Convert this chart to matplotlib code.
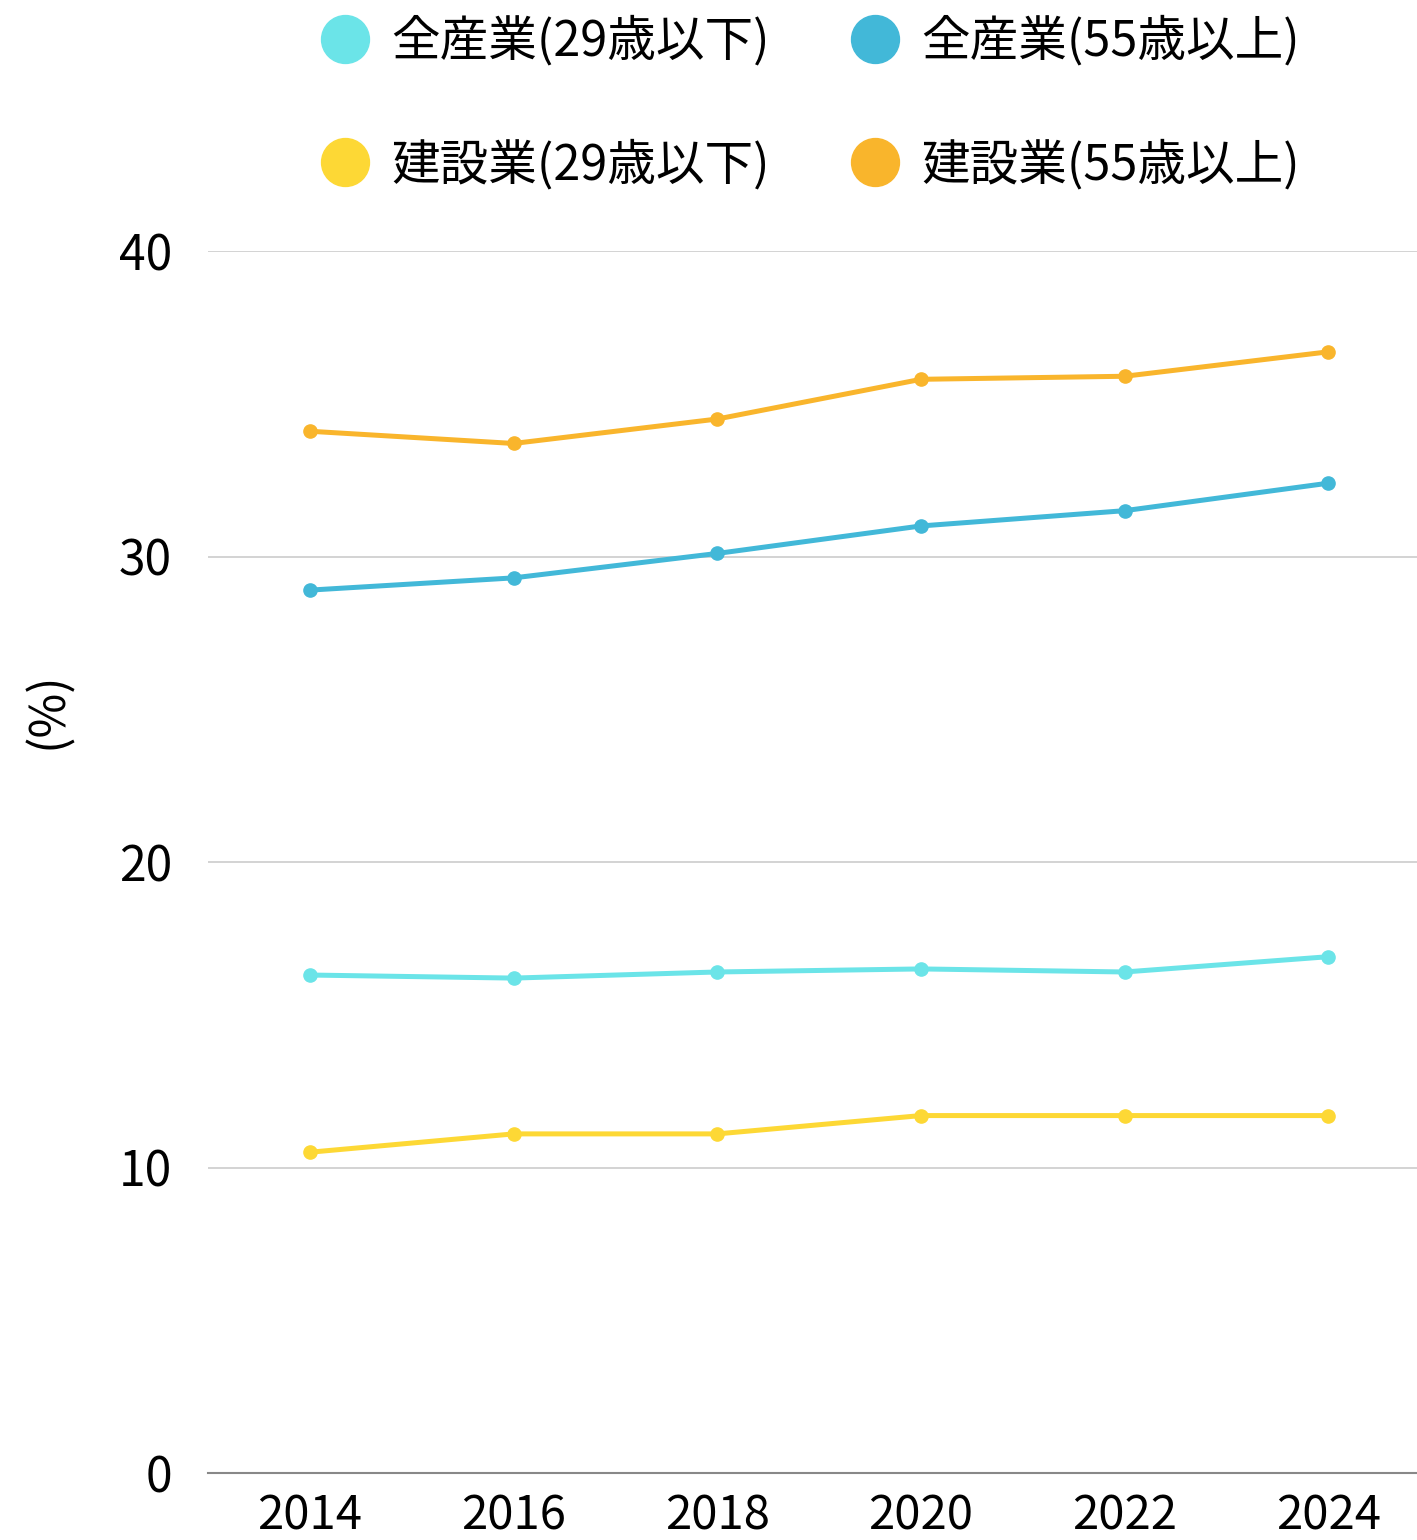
import matplotlib
matplotlib.use('Agg')
import matplotlib.pyplot as plt
from matplotlib.lines import Line2D

plt.rcParams['font.family'] = ['Noto Sans CJK JP', 'DejaVu Sans']

# share of workers by age band (%)
years = [2014, 2016, 2018, 2020, 2022, 2024]
all_under29 = [16.3, 16.2, 16.4, 16.5, 16.4, 16.9]
all_over55 = [28.9, 29.3, 30.1, 31.0, 31.5, 32.4]
con_under29 = [10.5, 11.1, 11.1, 11.7, 11.7, 11.7]
con_over55 = [34.1, 33.7, 34.5, 35.8, 35.9, 36.7]

labels = ['全産業(29歳以下)', '建設業(29歳以下)', '全産業(55歳以上)', '建設業(55歳以上)']
series = [all_under29, con_under29, all_over55, con_over55]
colors = ['#6be4e8', '#fdd835', '#42b8d8', '#f9b52c']

fig = plt.figure(figsize=(14.17, 15.4), dpi=100)
ax = fig.add_axes([208 / 1417, (1540 - 1473) / 1540, 1 - 208 / 1417, (1473 - 251) / 1540])

for vals, c in zip(series, colors):
    ax.plot(years, vals, color=c, lw=3.6, marker='o', ms=9.5, zorder=3)

ax.set_ylim(0, 40)
ax.set_xlim(2013, 2024.87)
ax.set_yticks([0, 10, 20, 30, 40])
ax.set_xticks(years)
ax.grid(axis='y', color='#cccccc', lw=1.2)
ax.set_axisbelow(True)
for s in ['top', 'right', 'left']:
    ax.spines[s].set_visible(False)
ax.spines['bottom'].set_color('#888888')
ax.spines['bottom'].set_linewidth(1.5)
ax.tick_params(axis='y', length=0, pad=26, labelsize=34.5)
ax.tick_params(axis='x', length=0, pad=14, labelsize=34)

fig.text(48 / 1417, 1 - 710 / 1540, '(%)', rotation=90, ha='center', va='center', fontsize=35)

handles = [Line2D([], [], ls='none', marker='o', ms=34.5, color=c) for c in colors]
fig.legend(handles, labels, ncol=2, loc='upper left', bbox_to_anchor=(265 / 1417, 1.018),
           frameon=False, fontsize=35, handletextpad=0.2, columnspacing=1.42,
           labelspacing=1.5, handlelength=1.5)

fig.savefig('out.png', dpi=100)
